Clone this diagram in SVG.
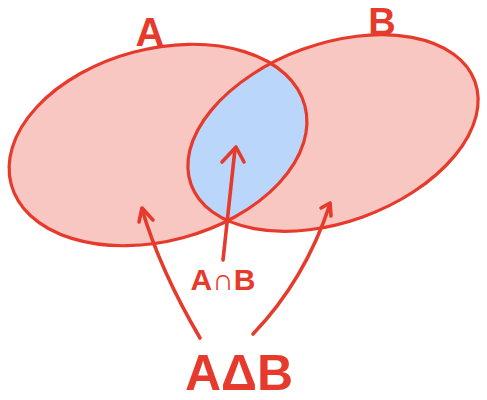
<svg xmlns="http://www.w3.org/2000/svg" width="487" height="400" viewBox="0 0 487 400">
<style>
.set{fill:#f9c7c2;}
.edge{fill:none;stroke:#e63b2c;stroke-width:3.2;}
.lens{fill:#bad6fb;}
.arr{fill:none;stroke:#e63b2c;stroke-width:3.6;stroke-linecap:round;stroke-linejoin:round;}
.lbl{fill:#e63b2c;font-family:"Liberation Sans",Arial,sans-serif;text-anchor:middle;font-weight:bold;}
</style>
<defs>
<clipPath id="clipA"><ellipse cx="158" cy="145" rx="152" ry="96" transform="rotate(-15 158 145)"/></clipPath>
</defs>
<rect width="487" height="400" fill="#ffffff"/>
<g id="setA"><ellipse class="set" cx="158" cy="145" rx="152" ry="96" transform="rotate(-15 158 145)"/></g>
<g id="setB"><ellipse class="set" cx="333" cy="133" rx="151" ry="89" transform="rotate(-20 333 133)"/></g>
<g id="intersection" clip-path="url(#clipA)"><ellipse class="lens" cx="333" cy="133" rx="151" ry="89" transform="rotate(-20 333 133)"/></g>
<g id="outlines">
<ellipse class="edge" cx="158" cy="145" rx="152" ry="96" transform="rotate(-15 158 145)"/>
<ellipse class="edge" cx="333" cy="133" rx="151" ry="89" transform="rotate(-20 333 133)"/>
</g>
<g id="labelA"><text class="lbl" x="150" y="46" font-size="40">A</text></g>
<g id="labelB"><text class="lbl" x="382" y="35" font-size="38">B</text></g>
<g id="connectors">
<path class="arr" d="M223 260 L235 149"/>
<path class="arr" d="M222 162 L236 147 L244 162"/>
<path class="arr" d="M200 338 Q160 270 142 209"/>
<path class="arr" d="M139 222 L142 208 L153 220"/>
<path class="arr" d="M253 334 Q305 280 330 204"/>
<path class="arr" d="M321 208 L330 203 L331 216"/>
</g>
<g id="labelAnB"><text class="lbl" x="223" y="290" font-size="30">A∩B</text></g>
<g id="labelAdB"><text class="lbl" x="239" y="390" font-size="50">AΔB</text></g>
</svg>
